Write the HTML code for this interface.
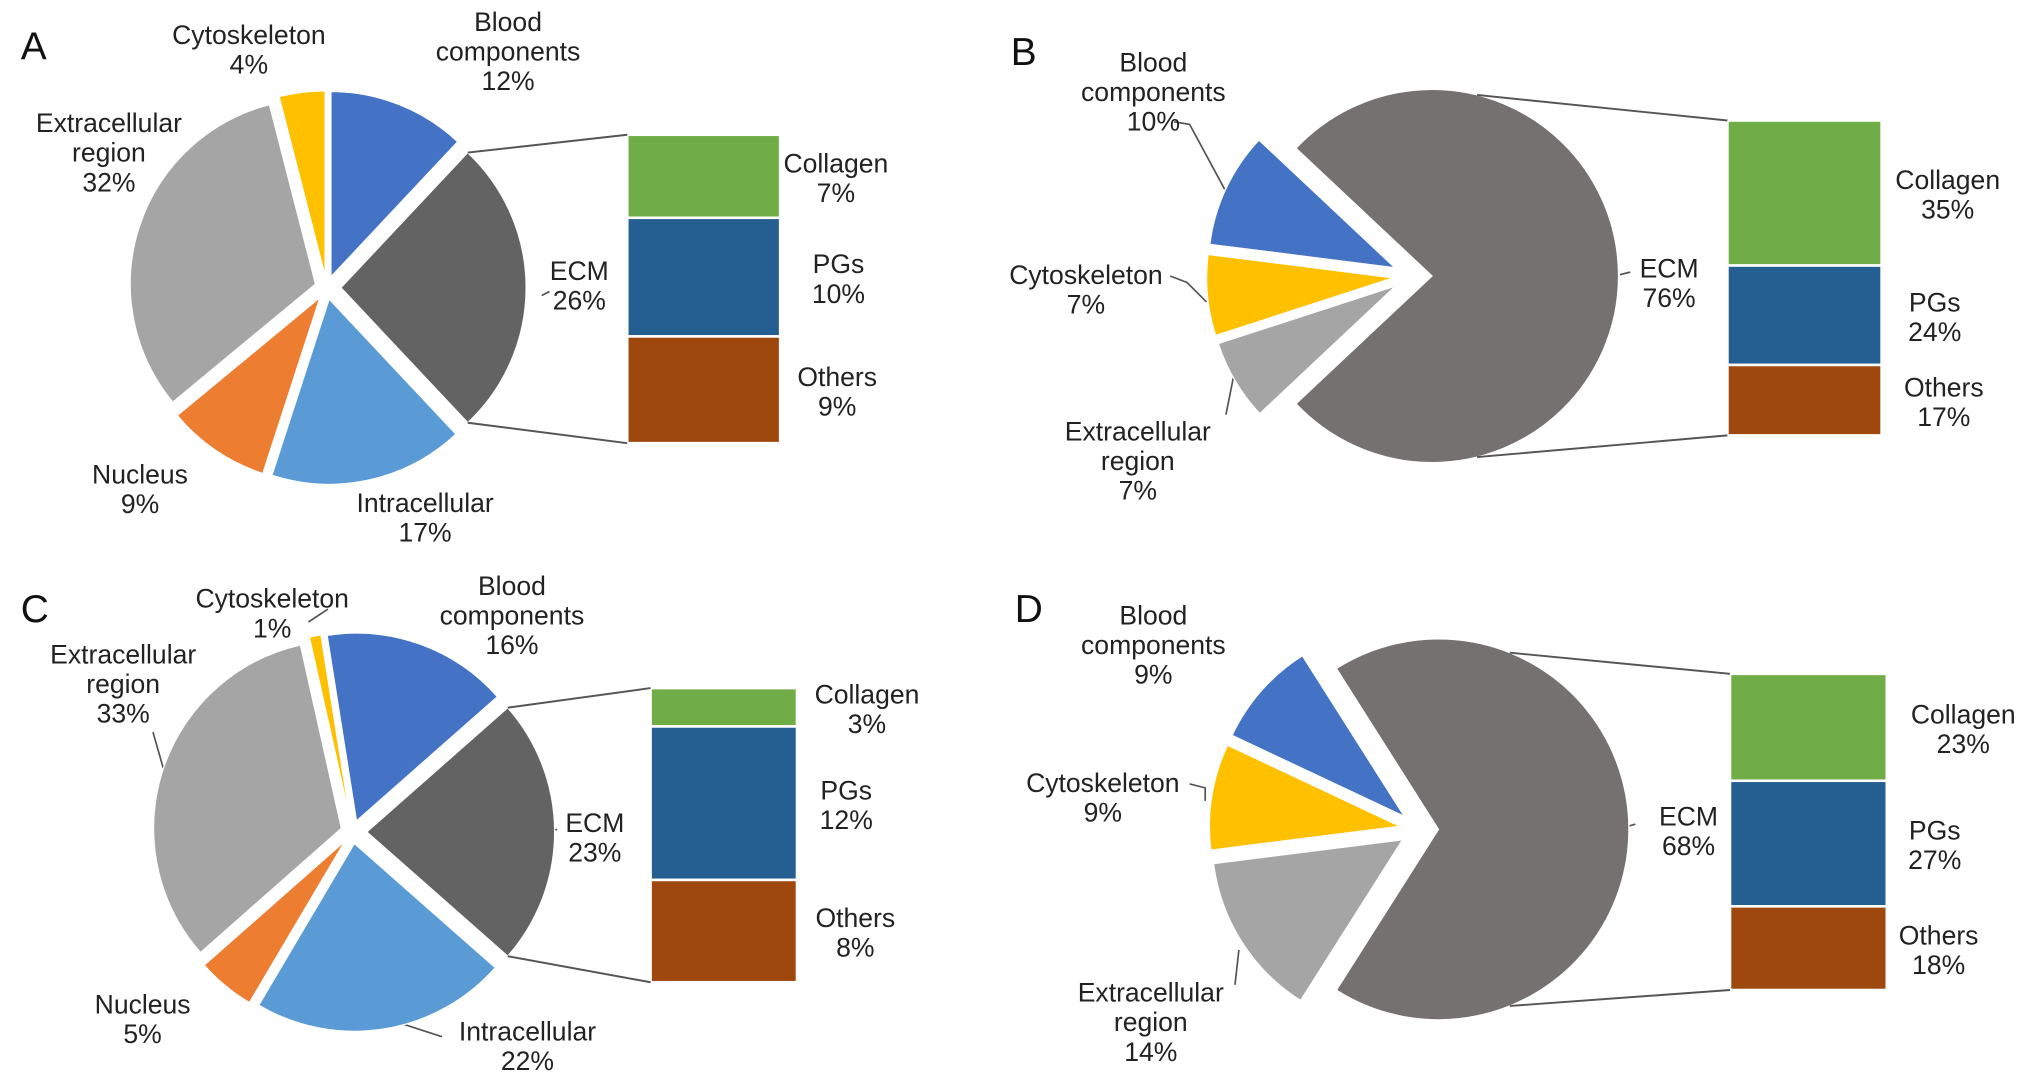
<!DOCTYPE html>
<html><head><meta charset="utf-8"><style>
html,body{margin:0;padding:0;background:#fff;}
svg{display:block;font-family:"Liberation Sans",Arial,sans-serif;}
</style></head><body>
<svg id="fig" width="2032" height="1085" viewBox="0 0 1568 837.3" xmlns="http://www.w3.org/2000/svg">
<g id="leaders" stroke="#555" stroke-width="1.3" fill="none">
<path d="M424,225 L418,228"/>
<path d="M906,94 L918,96 L945,146"/>
<path d="M903,213 L916,218 L931,233"/>
<path d="M946,320 L952,290"/>
<path d="M1250,212 L1258,210"/>
<path d="M238,480 L253,470"/>
<path d="M118,565 L128,600"/>
<path d="M341,800 L310,790"/>
<path d="M424,642 L430,640"/>
<path d="M918,605 L930,608 L930,618"/>
<path d="M953,760 L956,733"/>
<path d="M1255,638 L1262,636"/>
</g>
</svg>
<script>
// Panel A
const aCats=["Blood components","ECM","Intracellular","Nucleus","Extracellular region","Cytoskeleton"];
const aVals=[12,26,17,9,32,4];
const aSubCats=["Collagen","PGs","Others"];
const aSubVals=[7,10,9];
// Panel B
const bCats=["ECM","Extracellular region","Cytoskeleton","Blood components"];
const bVals=[76,7,7,10];
const bSubCats=["Collagen","PGs","Others"];
const bSubVals=[35,24,17];
// Panel C
const cCats=["Blood components","ECM","Intracellular","Nucleus","Extracellular region","Cytoskeleton"];
const cVals=[16,23,22,5,33,1];
const cSubCats=["Collagen","PGs","Others"];
const cSubVals=[3,12,8];
// Panel D
const dCats=["ECM","Extracellular region","Cytoskeleton","Blood components"];
const dVals=[68,14,9,9];
const dSubCats=["Collagen","PGs","Others"];
const dSubVals=[23,27,18];

const NS="http://www.w3.org/2000/svg";
const svg=document.getElementById('fig');
const colors={"Blood components":"#4472C4","Cytoskeleton":"#FFC000","Extracellular region":"#A5A5A5","Nucleus":"#ED7D31","Intracellular":"#5B9BD5","Collagen":"#70AD47","PGs":"#255E91","Others":"#9E480E"};
function el(tag,attrs,parent){const e=document.createElementNS(NS,tag);for(const k in attrs)e.setAttribute(k,attrs[k]);(parent||svg).appendChild(e);return e;}
function slug(s){return s.toLowerCase().replace(/[^a-z0-9]+/g,'-');}
function pt(cx,cy,r,deg){const a=deg*Math.PI/180;return [cx+r*Math.sin(a),cy-r*Math.cos(a)];}
function label(x,y,lines,name,parent){
  const t=el('text',{x:x,y:y,'text-anchor':'middle','font-size':20.5,fill:'#222'},parent);
  
  
  lines.forEach((ln,i)=>{const s=el('tspan',{x:x,dy:i?22.8:0},t);s.textContent=ln;});
}
function panel(p,cats,vals,subCats,subVals){
  const g=el('g',{});
  
  
  const L=el('text',{x:p.lx,y:p.ly,'font-size':30,fill:'#111'},g);L.textContent=p.id.toUpperCase();
  
  
  const total=vals.reduce((a,b)=>a+b,0);
  const ecmIdx=cats.indexOf("ECM");
  const ecmSpan=vals[ecmIdx]/total*360;
  // ECM centered on 90deg
  let start=90-ecmSpan/2;
  // rotate so that ECM index starts at computed start
  let angles=[];let acc=0;
  for(let i=0;i<vals.length;i++){angles.push(acc);acc+=vals[i]/total*360;}
  const off=start-angles[ecmIdx];
  let ecmEnds=null,ecmC=null;
  vals.forEach((v,i)=>{
    const a0=angles[i]+off,a1=a0+v/total*360,mid=(a0+a1)/2;
    const ex=(cats[i]==="ECM")?p.exE:p.ex;
    const [cx,cy]=pt(p.cx,p.cy,ex,mid);
    const [x0,y0]=pt(cx,cy,p.r,a0),[x1,y1]=pt(cx,cy,p.r,a1);
    const large=(a1-a0)>180?1:0;
    const col=cats[i]==="ECM"?p.ecmColor:colors[cats[i]];
    const s=el('path',{d:`M${cx},${cy} L${x0},${y0} A${p.r},${p.r} 0 ${large} 1 ${x1},${y1} Z`,fill:col,stroke:'#fff','stroke-width':1},g);
    
    
    if(cats[i]==="ECM"){ecmC=[cx,cy];ecmEnds=[a0,a1];}
  });
  // bar
  const subTotal=subVals.reduce((a,b)=>a+b,0);
  const H=p.bBot-p.bTop;let y=p.bTop;
  subVals.forEach((v,i)=>{
    const h=v/subTotal*H;
    const r=el('rect',{x:p.bx,y:y,width:p.bw,height:h,fill:colors[subCats[i]],stroke:'#fff','stroke-width':2},g);
    
    
    label(p.sx[i],y+h/2-3,[subCats[i],v+'%'],'bar-label-'+slug(subCats[i]),g);
    y+=h;
  });
  const ca=p.conn||ecmEnds;
  const [tx,ty]=pt(ecmC[0],ecmC[1],p.r,ca[0]),[bx,by]=pt(ecmC[0],ecmC[1],p.r,ca[1]);
  const c1=el('line',{x1:tx,y1:ty,x2:p.bx,y2:p.bTop,stroke:'#555','stroke-width':1.5},g);
  
  const c2=el('line',{x1:bx,y1:by,x2:p.bx,y2:p.bBot,stroke:'#555','stroke-width':1.5},g);
  
  // pie labels
  cats.forEach((c,i)=>{
    const pos=p.labels[c];
    const lines=c==="Blood components"?["Blood","components"]:c==="Extracellular region"?["Extracellular","region"]:[c];
    lines.push(vals[i]+'%');
    label(pos[0],pos[1],lines,'label-'+slug(c),g);
  });
}
panel({id:'a',lx:16,ly:46,cx:252,cy:222,r:143,ex:9,exE:11,ecmColor:'#636363',bx:484,bw:118,bTop:104,bBot:342,sx:[645,647,646],
 labels:{"Cytoskeleton":[192,34],"Blood components":[392,24],"Extracellular region":[84,102],"Nucleus":[108,373],"Intracellular":[328,395],"ECM":[447,216]}},aCats,aVals,aSubCats,aSubVals);
panel({id:'b',lx:780,ly:50,cx:1090,cy:213,r:144,ex:15,exE:15,ecmColor:'#767171',bx:1333,bw:119,bTop:93,bBot:336,sx:[1503,1493,1500],conn:[14,166],
 labels:{"Blood components":[890,55],"Cytoskeleton":[838,219],"Extracellular region":[878,340],"ECM":[1288,214]}},bCats,bVals,bSubCats,bSubVals);
panel({id:'c',lx:16,ly:480,cx:272,cy:642,r:145,ex:9,exE:11,ecmColor:'#636363',bx:502,bw:113,bTop:531,bBot:758,sx:[669,653,660],
 labels:{"Cytoskeleton":[210,469],"Blood components":[395,459],"Extracellular region":[95,512],"Nucleus":[110,782],"Intracellular":[407,803],"ECM":[459,642]}},cCats,cVals,cSubCats,cSubVals);
panel({id:'d',lx:783,ly:480,cx:1095,cy:640,r:147,ex:15,exE:15,ecmColor:'#767171',bx:1335,bw:121,bTop:520,bBot:764,sx:[1515,1493,1496],conn:[22,158],
 labels:{"Blood components":[890,482],"Cytoskeleton":[851,611],"Extracellular region":[888,773],"ECM":[1303,637]}},dCats,dVals,dSubCats,dSubVals);
</script>
</body></html>
